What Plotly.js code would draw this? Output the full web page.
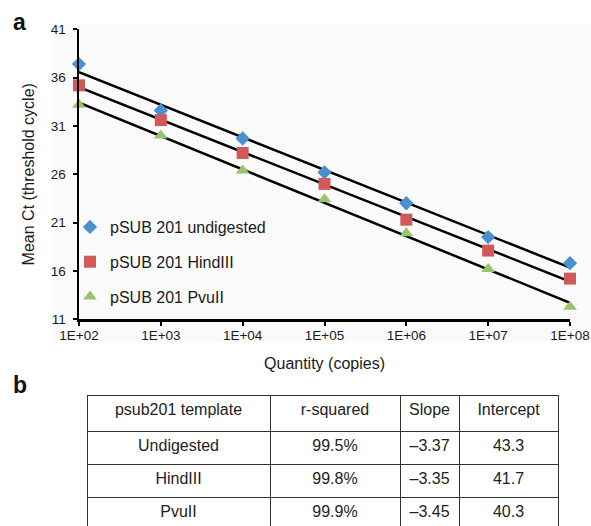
<!DOCTYPE html>
<html>
<head>
<meta charset="utf-8">
<script src="https://cdn.plot.ly/plotly-3.0.1.min.js"></script>
<style>
html, body { margin:0; padding:0; overflow:hidden; background:#fff; }
#chart { width:591px; height:560px; }
</style>
</head>
<body>
<div id="chart"></div>
<script>
// ---- data ----
const quantities = [1e2, 1e3, 1e4, 1e5, 1e6, 1e7, 1e8];
const xTickText = ['1E+02','1E+03','1E+04','1E+05','1E+06','1E+07','1E+08'];
const undigested = [37.4, 32.6, 29.7, 26.2, 23.0, 19.5, 16.8];
const hindIII    = [35.2, 31.6, 28.2, 25.0, 21.3, 18.1, 15.2];
const pvuII      = [33.2, 30.0, 26.4, 23.4, 19.9, 16.2, 12.3];
const seriesNames = ['pSUB 201 undigested', 'pSUB 201 HindIII', 'pSUB 201 PvuII'];

const tableHeader = ['psub201 template', 'r-squared', 'Slope', 'Intercept'];
const templates  = ['Undigested', 'HindIII', 'PvuII'];
const rSquared   = [99.5, 99.8, 99.9];
const slopes     = [-3.37, -3.35, -3.45];
const intercepts = [43.3, 41.7, 40.3];

// ---- styling ----
const W = 591, H = 560;
const FONT = 'Liberation Sans, Arial, Helvetica, sans-serif';
const colors = ['#4a8fd0', '#d05a5a', '#98c46a'];
const symbols = ['diamond', 'square', 'triangle-up'];
const sizes = [11, 12, 12];
const px = v => v / W;
const py = v => 1 - v / H;

const seriesY = [undigested, hindIII, pvuII];
const traces = [];
// trend lines from regression parameters
const xEnds = [quantities[0], quantities[quantities.length - 1]];
for (let i = 0; i < 3; i++) {
  traces.push({
    type: 'scatter', mode: 'lines', x: xEnds,
    y: xEnds.map(q => intercepts[i] + slopes[i] * Math.log10(q)),
    line: {color: '#000', width: 2.5}, showlegend: false, hoverinfo: 'skip'
  });
}
for (let i = 0; i < 3; i++) {
  traces.push({
    type: 'scatter', mode: 'markers', name: seriesNames[i], x: quantities, y: seriesY[i],
    legendgroup: 'g' + i,
    marker: {color: colors[i], symbol: symbols[i], size: sizes[i], line: {width: 0}},
    cliponaxis: false
  });
}

const fmtSlope = v => (v < 0 ? '\u2013' : '') + Math.abs(v).toFixed(2);
traces.push({
  type: 'table',
  domain: {x: [px(87), px(558)], y: [py(531), py(395)]},
  columnwidth: [183, 130, 59, 99],
  header: {
    values: tableHeader,
    align: 'center', height: 36,
    line: {color: '#333', width: 1},
    fill: {color: '#fff'},
    font: {family: FONT, size: 16, color: '#222'}
  },
  cells: {
    values: [templates, rSquared.map(v => v.toFixed(1) + '%'), slopes.map(fmtSlope), intercepts.map(v => v.toFixed(1))],
    align: 'center', height: 33,
    line: {color: '#333', width: 1},
    fill: {color: '#fff'},
    font: {family: FONT, size: 16, color: '#222'}
  }
});

const layout = {
  width: W, height: H,
  margin: {l: 0, r: 0, t: 0, b: 0},
  paper_bgcolor: '#fff',
  plot_bgcolor: 'rgba(0,0,0,0)',
  font: {family: FONT, color: '#1a1a1a'},
  showlegend: true,
  legend: {
    x: px(70), y: py(210), xanchor: 'left', yanchor: 'top',
    bgcolor: 'rgba(0,0,0,0)', font: {family: FONT, size: 16, color: '#1a1a1a'},
    tracegroupgap: 11, itemclick: false
  },
  xaxis: {
    type: 'log', domain: [px(79), px(570)], range: [2, 8],
    tickvals: quantities, ticktext: xTickText,
    showgrid: false, zeroline: false,
    showline: true, linecolor: '#000', linewidth: 2.5,
    ticks: 'outside', ticklen: 4, tickwidth: 2, tickcolor: '#000',
    tickfont: {family: FONT, size: 13.5, color: '#1a1a1a'},
    ticklabelstandoff: -2,
    title: {text: 'Quantity (copies)', font: {family: FONT, size: 16, color: '#1a1a1a'}, standoff: 16},
    fixedrange: true
  },
  yaxis: {
    domain: [py(319.2), py(29.3)], range: [11, 41],
    tick0: 11, dtick: 5,
    showgrid: false, zeroline: false,
    showline: true, linecolor: '#000', linewidth: 2.5,
    ticks: 'outside', ticklen: 4, tickwidth: 2, tickcolor: '#000',
    tickfont: {family: FONT, size: 13.5, color: '#1a1a1a'},
    ticklabelstandoff: 4,
    title: {text: 'Mean Ct (threshold cycle)', font: {family: FONT, size: 16, color: '#1a1a1a'}, standoff: 12},
    fixedrange: true
  },
  shapes: [{
    type: 'rect', xref: 'paper', yref: 'paper', layer: 'below',
    x0: px(53), x1: 1, y0: py(342), y1: py(24),
    fillcolor: '#fafafa', line: {width: 0}
  }],
  annotations: [
    {text: '<b>a</b>', xref: 'paper', yref: 'paper', x: px(11), y: py(7), xanchor: 'left', yanchor: 'top', showarrow: false, font: {family: FONT, size: 23, color: '#111'}},
    {text: '<b>b</b>', xref: 'paper', yref: 'paper', x: px(11), y: py(370), xanchor: 'left', yanchor: 'top', showarrow: false, font: {family: FONT, size: 23, color: '#111'}}
  ]
};

Plotly.newPlot('chart', traces, layout, {displayModeBar: false, staticPlot: true});
</script>
</body>
</html>
